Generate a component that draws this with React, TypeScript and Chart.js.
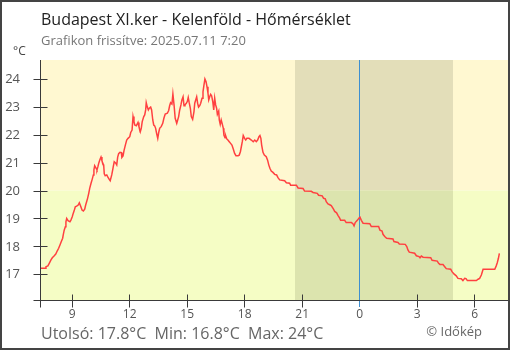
import React, { useEffect, useRef } from 'react';
import { Chart, registerables } from 'chart.js';

Chart.register(...registerables);

// Time of each reading, in hours from midnight of 2025.07.10 (24 = midnight, 30 = 6:00 next day)
const hours = [
  7.35, 7.61, 7.66, 7.76, 7.83, 7.92, 7.99, 8.08, 8.17, 8.25, 8.32, 8.39, 8.46, 8.53, 8.56, 8.61, 8.67, 8.70, 8.74, 8.81,
  8.91, 8.96, 9.03, 9.08, 9.14, 9.19, 9.26, 9.34, 9.40, 9.47, 9.54, 9.61, 9.68, 9.73, 9.78, 9.83, 9.89, 9.94, 10.01, 10.07,
  10.13, 10.16, 10.20, 10.27, 10.32, 10.37, 10.42, 10.48, 10.53, 10.58, 10.62, 10.67, 10.70, 10.75, 10.83, 10.89, 10.96, 11.01, 11.09, 11.14,
  11.17, 11.22, 11.30, 11.35, 11.40, 11.45, 11.52, 11.59, 11.62, 11.68, 11.73, 11.80, 11.87, 11.94, 12.03, 12.08, 12.15, 12.20, 12.25, 12.29,
  12.37, 12.46, 12.51, 12.58, 12.63, 12.68, 12.76, 12.81, 12.86, 12.89, 12.94, 13.00, 13.05, 13.12, 13.17, 13.23, 13.28, 13.33, 13.38, 13.43,
  13.49, 13.54, 13.59, 13.67, 13.75, 13.81, 13.88, 13.99, 14.06, 14.11, 14.16, 14.23, 14.28, 14.34, 14.40, 14.48, 14.53, 14.58, 14.63, 14.70,
  14.75, 14.81, 14.86, 14.91, 14.98, 15.03, 15.08, 15.13, 15.19, 15.24, 15.31, 15.38, 15.42, 15.47, 15.52, 15.57, 15.62, 15.68, 15.73, 15.80,
  15.85, 15.90, 15.95, 16.01, 16.06, 16.11, 16.15, 16.20, 16.25, 16.30, 16.36, 16.41, 16.46, 16.51, 16.56, 16.60, 16.67, 16.70, 16.75, 16.80,
  16.86, 16.91, 16.94, 17.00, 17.03, 17.09, 17.15, 17.22, 17.29, 17.36, 17.43, 17.50, 17.57, 17.68, 17.74, 17.80, 17.85, 17.90, 17.95, 18.02,
  18.08, 18.14, 18.25, 18.37, 18.47, 18.55, 18.63, 18.70, 18.77, 18.82, 18.87, 18.91, 18.98, 19.05, 19.15, 19.22, 19.28, 19.34, 19.41, 19.50,
  19.59, 19.69, 19.76, 19.85, 20.11, 20.20, 20.37, 20.42, 20.72, 20.81, 21.07, 21.15, 21.50, 21.59, 21.81, 21.88, 22.07, 22.14, 22.23, 22.28,
  22.37, 22.46, 22.54, 22.65, 22.72, 22.82, 22.89, 22.98, 23.03, 23.24, 23.32, 23.59, 23.67, 23.73, 23.79, 23.90, 23.99, 24.04, 24.11, 24.20,
  24.55, 24.63, 25.01, 25.08, 25.19, 25.24, 25.33, 25.43, 25.76, 25.81, 26.02, 26.09, 26.40, 26.48, 26.54, 26.61, 26.89, 26.98, 27.12, 27.17,
  27.24, 27.33, 27.73, 27.80, 28.07, 28.14, 28.21, 28.37, 28.46, 28.54, 28.77, 28.84, 28.94, 29.06, 29.15, 29.32, 29.41, 29.50, 29.57, 29.64,
  30.11, 30.20, 30.28, 30.37, 30.46, 31.07, 31.14, 31.20, 31.26, 31.31,
];

// Temperature readings (°C)
const temps = [
  17.21, 17.21, 17.27, 17.30, 17.39, 17.51, 17.59, 17.65, 17.72, 17.84, 17.93, 18.05, 18.17, 18.29, 18.41, 18.58, 18.70, 18.88, 19.00, 18.92,
  18.88, 18.94, 19.06, 19.18, 19.30, 19.42, 19.44, 19.48, 19.56, 19.44, 19.30, 19.27, 19.33, 19.48, 19.60, 19.72, 19.90, 20.08, 20.26, 20.40,
  20.56, 20.74, 20.89, 20.80, 20.74, 20.86, 21.00, 21.12, 21.20, 21.07, 20.98, 20.92, 20.60, 20.53, 20.56, 20.48, 20.40, 20.35, 20.56, 20.74,
  20.86, 21.03, 20.98, 20.92, 21.20, 21.32, 21.37, 21.36, 21.19, 21.24, 21.43, 21.63, 21.81, 21.87, 21.93, 22.08, 22.17, 22.65, 22.47, 22.35,
  22.32, 22.44, 22.29, 22.11, 22.23, 22.47, 22.65, 22.71, 22.89, 23.15, 23.01, 22.89, 22.95, 22.99, 22.89, 22.53, 22.35, 22.32, 22.23, 22.05,
  21.87, 22.08, 22.23, 22.29, 22.41, 22.59, 22.74, 22.77, 22.87, 23.04, 23.15, 23.10, 23.46, 23.07, 22.59, 22.41, 22.53, 22.65, 22.87, 23.07,
  23.25, 23.36, 23.04, 23.07, 23.13, 23.19, 23.34, 23.15, 22.95, 22.65, 22.55, 22.83, 23.13, 23.25, 23.36, 23.13, 22.99, 23.04, 23.13, 23.31,
  23.54, 23.78, 24.00, 23.90, 23.72, 23.49, 23.25, 23.36, 23.45, 23.40, 23.19, 22.89, 23.31, 23.07, 22.95, 22.73, 22.85, 22.53, 22.37, 22.53,
  22.37, 22.23, 21.99, 21.89, 21.97, 21.85, 21.81, 21.75, 21.69, 21.63, 21.49, 21.33, 21.25, 21.25, 21.27, 21.39, 21.57, 21.75, 21.97, 21.87,
  21.81, 21.87, 21.87, 21.81, 21.75, 21.81, 21.75, 21.81, 21.93, 21.97, 21.87, 21.63, 21.37, 21.27, 21.21, 21.09, 20.92, 20.80, 20.70, 20.65,
  20.58, 20.56, 20.46, 20.38, 20.35, 20.28, 20.26, 20.19, 20.19, 20.09, 20.07, 19.98, 19.97, 19.93, 19.90, 19.83, 19.81, 19.72, 19.70, 19.60,
  19.52, 19.49, 19.46, 19.34, 19.25, 19.20, 19.11, 19.01, 18.93, 18.93, 18.85, 18.85, 18.81, 18.73, 18.85, 18.93, 19.01, 19.04, 18.93, 18.83,
  18.81, 18.71, 18.71, 18.58, 18.55, 18.43, 18.35, 18.29, 18.26, 18.17, 18.14, 18.08, 18.07, 17.99, 17.87, 17.79, 17.75, 17.66, 17.63, 17.59,
  17.65, 17.61, 17.59, 17.50, 17.47, 17.39, 17.35, 17.35, 17.27, 17.20, 17.18, 17.09, 17.01, 16.94, 16.85, 16.84, 16.77, 16.85, 16.84, 16.77,
  16.77, 16.82, 16.85, 16.97, 17.18, 17.18, 17.29, 17.41, 17.57, 17.75,
];

const xTickHours = [9, 12, 15, 18, 21, 24, 27, 30];
const xTickLabels = ['9', '12', '15', '18', '21', '0', '3', '6'];
const yTickValues = [17, 18, 19, 20, 21, 22, 23, 24];
const yTickLabels = ['17', '18', '19', '20', '21', '22', '23', '24'];
const xRange = [7.4, 31.76];
const yRange = [16.075, 24.68];
const warmThreshold = 20;
const nightStart = 20.65;
const nightEnd = 28.89;
const midnight = 24;

const titleText = 'Budapest XI.ker - Kelenföld - Hőmérséklet';
const subtitleText = 'Grafikon frissítve: 2025.07.11 7:20';
const unitText = '°C';
const lastTemp = '17.8';
const minTemp = '16.8';
const maxTemp = '24';
const creditText = '© Időkép';

const FONT = "'Open Sans', 'Noto Sans', sans-serif";

const decorPlugin = {
  id: 'decor',
  beforeDatasetsDraw(chart: any) {
    const { ctx, chartArea: a, scales } = chart;
    const x = scales.x, y = scales.y;
    const y20 = y.getPixelForValue(warmThreshold);
    const xs = x.getPixelForValue(nightStart);
    const xe = x.getPixelForValue(nightEnd);
    ctx.save();
    ctx.fillStyle = '#fff8d1';
    ctx.fillRect(a.left, a.top, a.right - a.left, y20 - a.top);
    ctx.fillStyle = '#f5fdc5';
    ctx.fillRect(a.left, y20, a.right - a.left, a.bottom - y20);
    ctx.fillStyle = '#e3deb9';
    ctx.fillRect(xs, a.top, xe - xs, y20 - a.top);
    ctx.fillStyle = '#dce4ae';
    ctx.fillRect(xs, y20, xe - xs, a.bottom - y20);
    // midnight line
    const xm = Math.round(x.getPixelForValue(midnight)) + 0.5;
    ctx.strokeStyle = '#3d8fd1';
    ctx.lineWidth = 1;
    ctx.beginPath();
    ctx.moveTo(xm, a.top);
    ctx.lineTo(xm, a.bottom + 7);
    ctx.stroke();
    ctx.restore();
  },
  afterDatasetsDraw(chart: any) {
    const { ctx, chartArea: a, scales } = chart;
    const x = scales.x, y = scales.y;
    ctx.save();
    ctx.strokeStyle = '#3a3a3a';
    ctx.lineWidth = 1;
    const ax = Math.round(a.left) - 0.5;
    const ay = Math.round(a.bottom) + 0.5;
    ctx.beginPath();
    ctx.moveTo(ax, a.top);
    ctx.lineTo(ax, ay + 7);
    ctx.moveTo(ax - 7, ay);
    ctx.lineTo(a.right, ay);
    for (const v of yTickValues) {
      const py = Math.round(y.getPixelForValue(v)) + 0.5;
      ctx.moveTo(ax - 7, py);
      ctx.lineTo(ax + 7, py);
    }
    for (const h of xTickHours) {
      if (h === midnight) continue;
      const px = Math.round(x.getPixelForValue(h)) + 0.5;
      ctx.moveTo(px, ay - 6);
      ctx.lineTo(px, ay + 7);
    }
    ctx.stroke();

    // tick labels
    ctx.fillStyle = '#555';
    ctx.font = `13px ${FONT}`;
    ctx.textAlign = 'right';
    ctx.textBaseline = 'middle';
    yTickValues.forEach((v, i) => {
      ctx.fillText(yTickLabels[i], 20, y.getPixelForValue(v) + 0.5);
    });
    ctx.font = `12px ${FONT}`;
    ctx.textAlign = 'center';
    xTickHours.forEach((h, i) => {
      ctx.fillText(xTickLabels[i], x.getPixelForValue(h) + 0.5, 315);
    });
    ctx.restore();
  },
  afterDraw(chart: any) {
    const { ctx, width, height } = chart;
    ctx.save();
    ctx.textBaseline = 'alphabetic';
    ctx.textAlign = 'left';
    ctx.fillStyle = '#222';
    ctx.font = `16px ${FONT}`;
    ctx.fillText(titleText, 41, 25);
    ctx.fillStyle = '#777';
    ctx.font = `13px ${FONT}`;
    ctx.fillText(subtitleText, 41, 45);
    ctx.fillStyle = '#444';
    ctx.font = `12px ${FONT}`;
    ctx.fillText(unitText, 13, 55);
    ctx.fillStyle = '#666';
    ctx.font = `16px ${FONT}`;
    ctx.fillText(`Utolsó: ${lastTemp}°C  Min: ${minTemp}°C  Max: ${maxTemp}°C`, 41, 339);
    ctx.fillStyle = '#666';
    ctx.font = `13px ${FONT}`;
    ctx.textAlign = 'right';
    ctx.fillText(creditText, 482, 336);
    // frame
    ctx.strokeStyle = '#444';
    ctx.lineWidth = 2;
    ctx.strokeRect(1, 1, width - 2, height - 2);
    ctx.restore();
  },
};

export default function App() {
  const ref = useRef<HTMLCanvasElement | null>(null);
  useEffect(() => {
    if (!ref.current) return;
    Chart.defaults.font.family = FONT;
    const chart = new Chart(ref.current, {
      type: 'line',
      data: {
        datasets: [
          {
            data: hours.map((h, i) => ({ x: h, y: temps[i] })),
            borderColor: '#ff4040',
            borderWidth: 1.5,
            pointRadius: 0,
            tension: 0,
            fill: false,
          },
        ],
      },
      options: {
        animation: false,
        responsive: false,
        devicePixelRatio: 1,
        layout: { padding: { left: 0, top: 60, right: 2, bottom: 0 } },
        plugins: { legend: { display: false }, tooltip: { enabled: false }, title: { display: false } },
        scales: {
          x: {
            type: 'linear',
            min: xRange[0],
            max: xRange[1],
            grid: { display: false },
            border: { display: false },
            ticks: { display: false },
            afterFit: (s: any) => { s.height = 50; },
            afterBuildTicks: (s: any) => { s.ticks = xTickHours.map((v) => ({ value: v })); },
          },
          y: {
            type: 'linear',
            min: yRange[0],
            max: yRange[1],
            grid: { display: false },
            border: { display: false },
            ticks: { display: false },
            afterFit: (s: any) => { s.width = 41; },
            afterBuildTicks: (s: any) => { s.ticks = yTickValues.map((v) => ({ value: v })); },
          },
        },
      },
      plugins: [decorPlugin],
    });
    return () => chart.destroy();
  }, []);
  return (
    <div style={{ position: 'fixed', left: 0, top: 0, width: 510, height: 350, background: '#fff' }}>
      <canvas ref={ref} width={510} height={350} style={{ display: 'block', width: 510, height: 350 }} />
    </div>
  );
}
